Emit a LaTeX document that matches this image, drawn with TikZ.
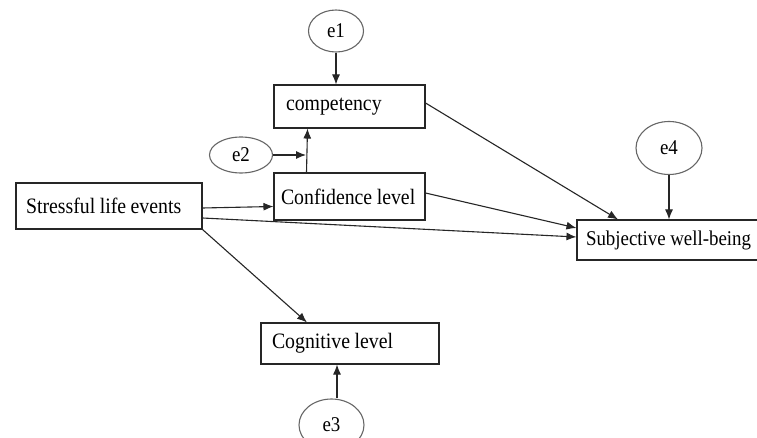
\documentclass[tikz,border=0pt]{standalone}
\usepackage{fontspec}
\setmainfont{Liberation Serif}[FakeStretch=0.9]
\usetikzlibrary{arrows.meta,shapes.geometric,calc}
\newcommand\mytightsp{\spaceskip=4.5pt plus 1pt\relax}
\begin{document}
\begin{tikzpicture}[x=1pt,y=-1pt,
  box/.style={draw=black!85,line width=1.1pt,rectangle,inner xsep=9pt,inner ysep=0pt,align=left,font=\fontsize{22}{24}\selectfont,anchor=center},
  err/.style={draw=black!60,line width=1.1pt,ellipse,inner sep=0pt,font=\fontsize{21}{24}\selectfont},
  arr/.style={draw=black!85,line width=1.1pt,-{Latex[length=10pt,width=8pt]}}]
\useasboundingbox (0,0) rectangle (757,438);
\clip (0,0) rectangle (757,438);
\fill[white] (0,0) rectangle (757,438);
% boxes
\node[box,minimum width=186pt,minimum height=46pt,text width=168pt] (stress) at (109,206) {\mytightsp\mbox{\hspace{1pt}Stressful life events}};
\node[box,minimum width=151pt,minimum height=43pt,text width=133pt] (comp) at (349.5,106.5) {\mbox{\hspace{3pt}competency}};
\node[box,minimum width=151pt,minimum height=47pt,text width=133pt] (conf) at (349.5,196.5) {\mytightsp\mbox{\hspace{-2pt}Confidence level}};
\node[box,minimum width=190pt,minimum height=40pt,text width=172pt] (subj) at (672,240) {\fontsize{21}{24}\selectfont\mytightsp\mbox{Subjective well-being}};
\node[box,minimum width=178pt,minimum height=41pt,text width=160pt] (cog) at (350,343.5) {\mytightsp\mbox{\hspace{2pt}Cognitive level}};
% error terms
\node[err,minimum width=55pt,minimum height=42pt] (e1) at (336,31) {e1};
\node[err,minimum width=63pt,minimum height=36pt] (e2) at (241,155) {e2};
\node[err,minimum width=66pt,minimum height=53pt] (e4) at (669,148) {e4};
\node[err,minimum width=65pt,minimum height=52pt] (e3) at (331.5,425) {e3};
\coordinate (j) at (306,155);
% connectors
\draw[arr] (e1) -- (e1 |- comp.north);
\draw[arr] ([xshift=-43pt]conf.north) -- ([xshift=-42pt]comp.south);
\draw[arr] (e2.east) -- (j);
\draw[arr] ([yshift=-2pt]stress.east) -- ([yshift=-10pt]conf.west);
\draw[arr] ([yshift=-12pt]stress.east) -- ([yshift=3pt]subj.west);
\draw[arr] (stress.south east) -- ([xshift=-43pt]cog.north);
\draw[arr] ([yshift=3.5pt]comp.east) -- ([xshift=-54pt]subj.north);
\draw[arr] ([yshift=3.5pt]conf.east) -- ([yshift=12pt]subj.west);
\draw[arr] (e4) -- (e4 |- subj.north);
\draw[arr] ([xshift=5.5pt]e3.north) -- ([xshift=5.5pt]e3.north |- cog.south);
\end{tikzpicture}
\end{document}
